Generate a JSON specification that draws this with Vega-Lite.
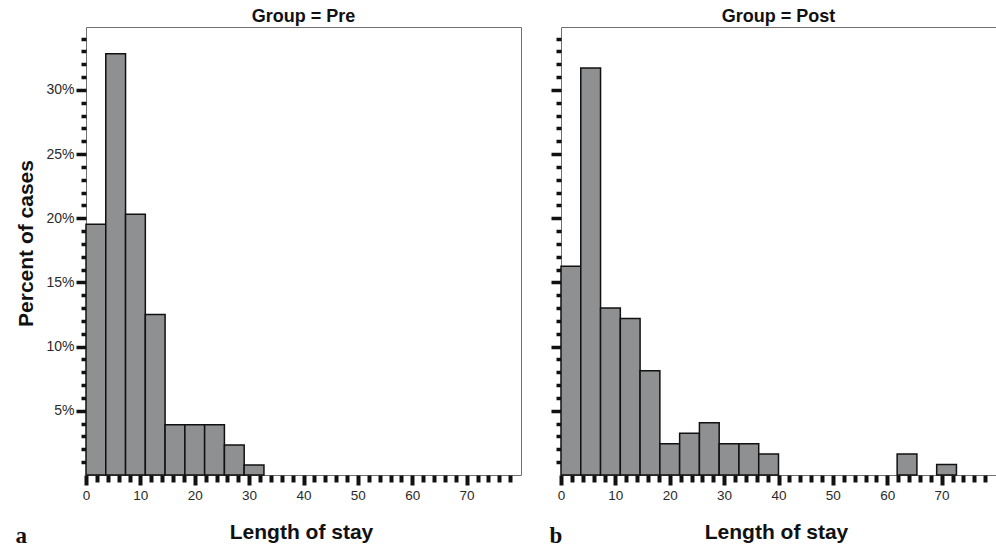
{
  "$schema": "https://vega.github.io/schema/vega-lite/v6.json",
  "padding": {"left": 14, "top": 7, "right": 1, "bottom": 0},
  "background": "white",
  "spacing": 40,
  "bounds": "flush",
  "config": {
    "view": {"stroke": "#707070", "strokeWidth": 1},
    "font": "Liberation Sans",
    "axis": {"domain": false, "grid": false, "tickColor": "#111111", "labelColor": "#2a2a2a", "labelFont": "Liberation Sans", "titleFont": "Liberation Sans", "titleColor": "#111111", "labelFlush": false, "labelOverlap": false},
    "title": {"font": "Liberation Sans", "fontSize": 18, "fontWeight": "bold", "color": "#111111", "offset": 1}
  },
  "datasets": {
    "pre": [
      {"bin_start": 0, "bin_end": 3.636, "pct": 19.53},
      {"bin_start": 3.636, "bin_end": 7.273, "pct": 32.81},
      {"bin_start": 7.273, "bin_end": 10.909, "pct": 20.31},
      {"bin_start": 10.909, "bin_end": 14.545, "pct": 12.5},
      {"bin_start": 14.545, "bin_end": 18.182, "pct": 3.91},
      {"bin_start": 18.182, "bin_end": 21.818, "pct": 3.91},
      {"bin_start": 21.818, "bin_end": 25.455, "pct": 3.91},
      {"bin_start": 25.455, "bin_end": 29.091, "pct": 2.34},
      {"bin_start": 29.091, "bin_end": 32.727, "pct": 0.78}
    ],
    "post": [
      {"bin_start": 0, "bin_end": 3.636, "pct": 16.26},
      {"bin_start": 3.636, "bin_end": 7.273, "pct": 31.71},
      {"bin_start": 7.273, "bin_end": 10.909, "pct": 13.01},
      {"bin_start": 10.909, "bin_end": 14.545, "pct": 12.2},
      {"bin_start": 14.545, "bin_end": 18.182, "pct": 8.13},
      {"bin_start": 18.182, "bin_end": 21.818, "pct": 2.44},
      {"bin_start": 21.818, "bin_end": 25.455, "pct": 3.25},
      {"bin_start": 25.455, "bin_end": 29.091, "pct": 4.07},
      {"bin_start": 29.091, "bin_end": 32.727, "pct": 2.44},
      {"bin_start": 32.727, "bin_end": 36.364, "pct": 2.44},
      {"bin_start": 36.364, "bin_end": 40, "pct": 1.63},
      {"bin_start": 61.818, "bin_end": 65.455, "pct": 1.63},
      {"bin_start": 69.091, "bin_end": 72.727, "pct": 0.81}
    ]
  },
  "hconcat": [
    {
      "title": "Group = Pre",
      "width": 435,
      "height": 448,
      "data": {"name": "pre"},
      "layer": [
        {
          "mark": {"type": "bar", "fill": "#8f9092", "stroke": "#111111", "strokeWidth": 1.5},
          "encoding": {
            "x": {"field": "bin_start", "type": "quantitative", "scale": {"domain": [0, 80], "nice": false, "zero": false},
              "axis": {"orient": "bottom", "values": [0, 10, 20, 30, 40, 50, 60, 70], "tickSize": 10, "tickWidth": 4, "labelFontSize": 13.5, "labelPadding": 3, "title": "Length of stay", "titleFontSize": 21, "titleFontWeight": "bold", "titlePadding": 20, "titleX": 215}},
            "x2": {"field": "bin_end"},
            "y": {"field": "pct", "type": "quantitative", "scale": {"domain": [0, 34.9], "nice": false},
              "axis": {"orient": "left", "values": [5, 10, 15, 20, 25, 30], "tickSize": 10, "tickWidth": 3.5, "labelExpr": "datum.value + '%'", "labelFontSize": 14, "labelPadding": 2, "title": "Percent of cases", "titleFontSize": 21, "titleFontWeight": "bold", "titlePadding": 9, "titleY": 216}},
            "y2": {"datum": 0}
          }
        },
        {
          "mark": {"type": "point", "opacity": 0},
          "encoding": {
            "x": {"field": "bin_start", "type": "quantitative", "scale": {"domain": [0, 80], "nice": false, "zero": false},
              "axis": {"orient": "bottom", "values": [2, 4, 6, 8, 12, 14, 16, 18, 22, 24, 26, 28, 32, 34, 36, 38, 42, 44, 46, 48, 52, 54, 56, 58, 62, 64, 66, 68, 72, 74, 76, 78], "tickSize": 7, "tickWidth": 4, "labels": false, "title": "a", "titleFont": "Liberation Serif", "titleFontSize": 23, "titleFontWeight": "bold", "titleX": -71, "titleY": 67, "titleAlign": "left", "titleBaseline": "alphabetic", "titleAngle": 0}},
            "y": {"field": "pct", "type": "quantitative", "scale": {"domain": [0, 34.9], "nice": false},
              "axis": {"orient": "left", "values": [1, 2, 3, 4, 6, 7, 8, 9, 11, 12, 13, 14, 16, 17, 18, 19, 21, 22, 23, 24, 26, 27, 28, 29, 31, 32, 33, 34], "tickSize": 5, "tickWidth": 3.5, "labels": false, "title": null}}
          }
        }
      ],
      "resolve": {"axis": {"x": "independent", "y": "independent"}}
    },
    {
      "title": "Group = Post",
      "width": 435,
      "height": 448,
      "data": {"name": "post"},
      "layer": [
        {
          "mark": {"type": "bar", "fill": "#8f9092", "stroke": "#111111", "strokeWidth": 1.5},
          "encoding": {
            "x": {"field": "bin_start", "type": "quantitative", "scale": {"domain": [0, 80], "nice": false, "zero": false},
              "axis": {"orient": "bottom", "values": [0, 10, 20, 30, 40, 50, 60, 70], "tickSize": 10, "tickWidth": 4, "labelFontSize": 13.5, "labelPadding": 3, "title": "Length of stay", "titleFontSize": 21, "titleFontWeight": "bold", "titlePadding": 20, "titleX": 215}},
            "x2": {"field": "bin_end"},
            "y": {"field": "pct", "type": "quantitative", "scale": {"domain": [0, 34.9], "nice": false},
              "axis": {"orient": "left", "values": [5, 10, 15, 20, 25, 30], "tickSize": 10, "tickWidth": 3.5, "labels": false, "title": null}},
            "y2": {"datum": 0}
          }
        },
        {
          "mark": {"type": "point", "opacity": 0},
          "encoding": {
            "x": {"field": "bin_start", "type": "quantitative", "scale": {"domain": [0, 80], "nice": false, "zero": false},
              "axis": {"orient": "bottom", "values": [2, 4, 6, 8, 12, 14, 16, 18, 22, 24, 26, 28, 32, 34, 36, 38, 42, 44, 46, 48, 52, 54, 56, 58, 62, 64, 66, 68, 72, 74, 76, 78], "tickSize": 7, "tickWidth": 4, "labels": false, "title": "b", "titleFont": "Liberation Serif", "titleFontSize": 23, "titleFontWeight": "bold", "titleX": -12, "titleY": 67, "titleAlign": "left", "titleBaseline": "alphabetic", "titleAngle": 0}},
            "y": {"field": "pct", "type": "quantitative", "scale": {"domain": [0, 34.9], "nice": false},
              "axis": {"orient": "left", "values": [1, 2, 3, 4, 6, 7, 8, 9, 11, 12, 13, 14, 16, 17, 18, 19, 21, 22, 23, 24, 26, 27, 28, 29, 31, 32, 33, 34], "tickSize": 5, "tickWidth": 3.5, "labels": false, "title": null}}
          }
        }
      ],
      "resolve": {"axis": {"x": "independent", "y": "independent"}}
    }
  ]
}
